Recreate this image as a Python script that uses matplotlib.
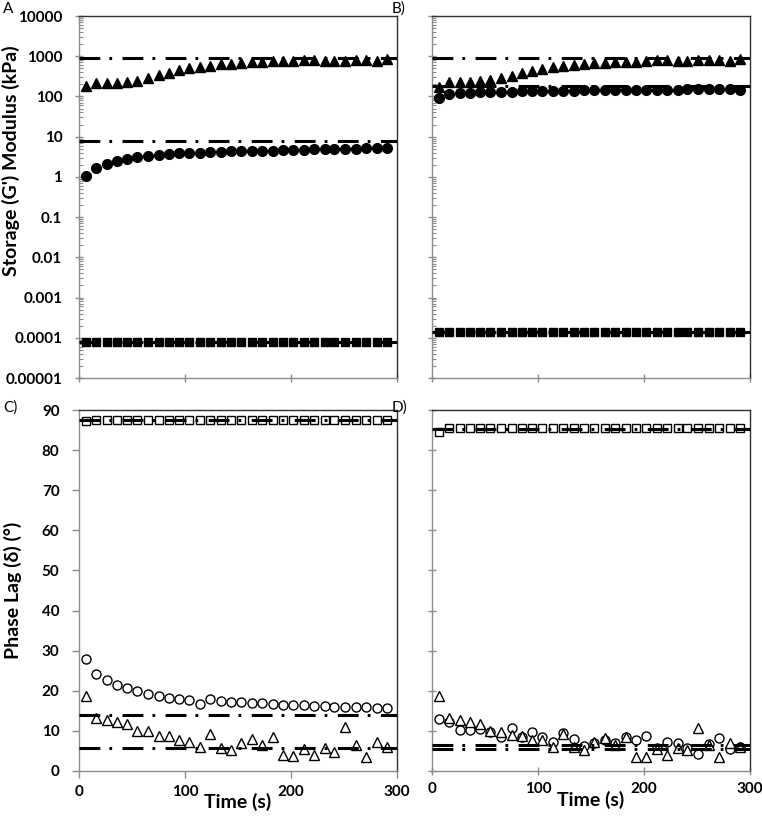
import matplotlib
matplotlib.use("Agg")
import matplotlib.pyplot as plt
from matplotlib.ticker import FixedLocator, LogLocator, NullFormatter, NullLocator

plt.rcParams["font.family"] = ["Lato", "DejaVu Sans"]
plt.rcParams["font.weight"] = "bold"
plt.rcParams["lines.scale_dashes"] = False

time_s = [7, 16, 26, 36, 45, 55, 65, 75, 85, 94, 104, 114, 124, 134, 143,
          153, 163, 173, 183, 192, 202, 212, 222, 232, 241, 251, 261, 271, 281, 291]

# Panel A: storage modulus (kPa)
a_tri = [185, 210, 220, 220, 225, 240, 290, 340, 390, 450, 500, 530, 580, 630, 640,
         660, 710, 720, 740, 750, 740, 810, 790, 760, 740, 780, 800, 790, 760, 870]
a_circ = [1.07, 1.64, 2.07, 2.45, 2.8, 3.1, 3.3, 3.6, 3.7, 3.9, 4.0, 4.0, 4.1, 4.2, 4.3,
          4.3, 4.4, 4.5, 4.5, 4.6, 4.7, 4.7, 4.8, 4.9, 4.9, 5.0, 5.0, 5.1, 5.1, 5.2]
a_sq = [8e-5, 8e-5, 8e-5, 8e-5, 8e-5, 8e-5, 8e-5, 8e-5, 8e-5, 8e-5,
        8e-5, 8e-5, 8e-5, 8e-5, 8e-5, 8e-5, 8e-5, 8e-5, 8e-5, 8e-5,
        8e-5, 8e-5, 8e-5, 8e-5, 8e-5, 8e-5, 8e-5, 8e-5, 8e-5, 8e-5]
a_ref = [890, 7.9, 8e-5]

# Panel B: storage modulus (kPa)
b_tri = [170, 223, 228, 232, 240, 255, 290, 330, 380, 435, 490, 525, 560, 600, 650,
         675, 675, 715, 730, 730, 745, 790, 790, 760, 760, 800, 810, 790, 760, 850]
b_circ = [94, 112, 121, 124, 126, 126, 126, 131, 133, 136, 133, 136, 139, 139, 141,
          141, 144, 141, 141, 144, 144, 146, 146, 146, 152, 154, 152, 152, 152, 148]
b_sq = [1.38e-4, 1.38e-4, 1.38e-4, 1.38e-4, 1.38e-4, 1.38e-4, 1.38e-4, 1.38e-4, 1.38e-4, 1.38e-4,
        1.38e-4, 1.38e-4, 1.38e-4, 1.38e-4, 1.38e-4, 1.38e-4, 1.38e-4, 1.38e-4, 1.38e-4, 1.38e-4,
        1.38e-4, 1.38e-4, 1.38e-4, 1.38e-4, 1.38e-4, 1.38e-4, 1.38e-4, 1.38e-4, 1.38e-4, 1.38e-4]
b_ref = [890, 180, 1.38e-4]

# Panel C: phase lag (deg)
c_sq = [87.2, 87.5, 87.5, 87.5, 87.5, 87.5, 87.5, 87.5, 87.5, 87.5, 87.5, 87.5, 87.5, 87.5, 87.5,
        87.5, 87.5, 87.5, 87.5, 87.5, 87.5, 87.5, 87.5, 87.5, 87.5, 87.5, 87.5, 87.5, 87.5, 87.5]
c_circ = [28.0, 24.3, 22.6, 21.4, 20.7, 20.0, 19.3, 18.8, 18.3, 17.9, 17.7, 16.8, 18.0, 17.5, 17.1,
          17.2, 16.9, 16.9, 16.6, 16.5, 16.5, 16.4, 16.2, 16.2, 16.0, 16.0, 15.9, 15.9, 15.8, 15.7]
c_tri = [18.6, 13.1, 12.6, 12.1, 11.8, 9.9, 9.9, 8.8, 8.8, 7.8, 7.2, 6.0, 9.3, 5.8, 5.2,
         7.1, 7.9, 6.4, 8.5, 3.9, 3.7, 5.6, 3.9, 5.7, 4.8, 11.0, 6.5, 3.5, 7.2, 6.1]
c_ref = [87.5, 14.0, 5.7]

# Panel D: phase lag (deg)
d_sq = [84.6, 85.4, 85.4, 85.4, 85.4, 85.4, 85.4, 85.4, 85.4, 85.4, 85.4, 85.4, 85.4, 85.4, 85.4,
        85.4, 85.4, 85.4, 85.4, 85.4, 85.4, 85.4, 85.5, 85.6, 85.4, 85.4, 85.4, 85.4, 85.4, 85.4]
d_circ = [12.9, 12.1, 10.2, 10.2, 10.4, 9.8, 8.6, 10.6, 8.4, 9.7, 8.4, 7.3, 9.4, 7.9, 6.2,
          7.0, 7.7, 7.1, 8.4, 7.7, 8.7, 5.7, 7.3, 7.1, 5.7, 4.2, 6.7, 8.2, 5.4, 6.1]
d_tri = [18.7, 13.3, 12.7, 12.1, 11.8, 9.9, 9.7, 8.9, 8.7, 7.8, 7.8, 6.1, 9.3, 6.0, 5.2,
         7.2, 8.3, 6.6, 8.6, 3.6, 3.6, 5.6, 4.0, 5.7, 5.2, 10.8, 6.6, 3.6, 7.1, 6.1]
d_ref = [85.3, 6.4, 5.6]

log_ticks = [1e-5, 1e-4, 1e-3, 1e-2, 1e-1, 1, 10, 100, 1000, 10000]
log_labels = ["0.00001", "0.0001", "0.001", "0.01", "0.1", "1", "10", "100", "1000", "10000"]
lin_ticks = [0, 10, 20, 30, 40, 50, 60, 70, 80, 90]
x_ticks = [0, 100, 200, 300]

W, H = 762, 818
DASH = (15, 6.5, 2, 7.5)
GREY = "#8c8c8c"


def box(l, t, r, b):
    return [l / W, 1 - b / H, (r - l) / W, (b - t) / H]


def style(ax, tick_dir):
    ax.set_xlim(0, 300)
    ax.xaxis.set_major_locator(FixedLocator(x_ticks))
    for s in ("left", "bottom"):
        ax.spines[s].set_color(GREY)
        ax.spines[s].set_linewidth(1.0)
    for s in ("top", "right"):
        ax.spines[s].set_color("#303030")
        ax.spines[s].set_linewidth(1.0)
    ax.tick_params(which="major", direction=tick_dir, length=6 if tick_dir == "inout" else 5,
                   color=GREY, width=1.0, labelsize=11, pad=9)


def ref_lines(ax, vals):
    for v in vals:
        ax.axhline(v, color="black", lw=2.2, dashes=DASH, dash_capstyle="butt", zorder=4)


fig = plt.figure(figsize=(W / 100, H / 100), dpi=100)
axA = fig.add_axes(box(79, 16, 397, 378))
axB = fig.add_axes(box(432, 16, 750, 378))
axC = fig.add_axes(box(79, 410, 397, 771))
axD = fig.add_axes(box(432, 410, 750, 771))

for ax, tri, circ, sq, ref in [(axA, a_tri, a_circ, a_sq, a_ref),
                               (axB, b_tri, b_circ, b_sq, b_ref)]:
    ax.set_yscale("log")
    ax.set_ylim(1e-5, 1e4)
    ax.plot(time_s, tri, "^", color="black", ms=7, ls="none", zorder=3)
    ax.plot(time_s, circ, "o", color="black", ms=7, ls="none", zorder=3)
    ax.plot(time_s, sq, "s", color="black", ms=6, ls="none", zorder=3)
    ref_lines(ax, ref)
    ax.yaxis.set_major_locator(FixedLocator(log_ticks))
    ax.yaxis.set_minor_locator(LogLocator(base=10, subs=range(2, 10), numticks=20))
    ax.yaxis.set_minor_formatter(NullFormatter())
    style(ax, "inout")
    ax.tick_params(which="minor", direction="in", length=3, color=GREY, width=0.8)
    ax.tick_params(axis="x", which="major", labelbottom=False)

axA.set_yticklabels(log_labels)
axB.set_yticklabels([])

for ax, sq, circ, tri, ref, tdir in [(axC, c_sq, c_circ, c_tri, c_ref, "out"),
                                     (axD, d_sq, d_circ, d_tri, d_ref, "inout")]:
    ax.set_ylim(0, 90)
    ax.plot(time_s, sq, "s", mfc="white", mec="black", mew=1.0, ms=6, ls="none", zorder=3)
    ax.plot(time_s, circ, "o", mfc="white", mec="black", mew=1.0, ms=6.5, ls="none", zorder=3)
    ax.plot(time_s, tri, "^", mfc="white", mec="black", mew=1.0, ms=6.5, ls="none", zorder=3)
    ref_lines(ax, ref)
    ax.yaxis.set_major_locator(FixedLocator(lin_ticks))
    ax.yaxis.set_minor_locator(NullLocator())
    ax.set_xticklabels([str(t) for t in x_ticks])
    style(ax, tdir)
    ax.tick_params(axis="x", pad=5)
    ax.set_xlabel("Time (s)", fontsize=14, fontweight="bold", labelpad=-4)

axD.set_yticklabels([])

axA.set_ylabel("Storage (G') Modulus (kPa)", fontsize=14, fontweight="bold")
axA.yaxis.set_label_coords(-59 / 318, 0.6)
axC.set_ylabel("Phase Lag (δ) (°)", fontsize=14, fontweight="bold")
axC.yaxis.set_label_coords(-57 / 318, 0.5)

fig.text(3 / W, 1 - 9 / H, "A", fontsize=11, fontweight="normal", va="center", ha="left")
fig.text(392 / W, 1 - 9 / H, "B)", fontsize=11, fontweight="normal", va="center", ha="left")
fig.text(3 / W, 1 - 408 / H, "C)", fontsize=11, fontweight="normal", va="center", ha="left")
fig.text(392 / W, 1 - 408 / H, "D)", fontsize=11, fontweight="normal", va="center", ha="left")

fig.savefig("out.png", dpi=100)
